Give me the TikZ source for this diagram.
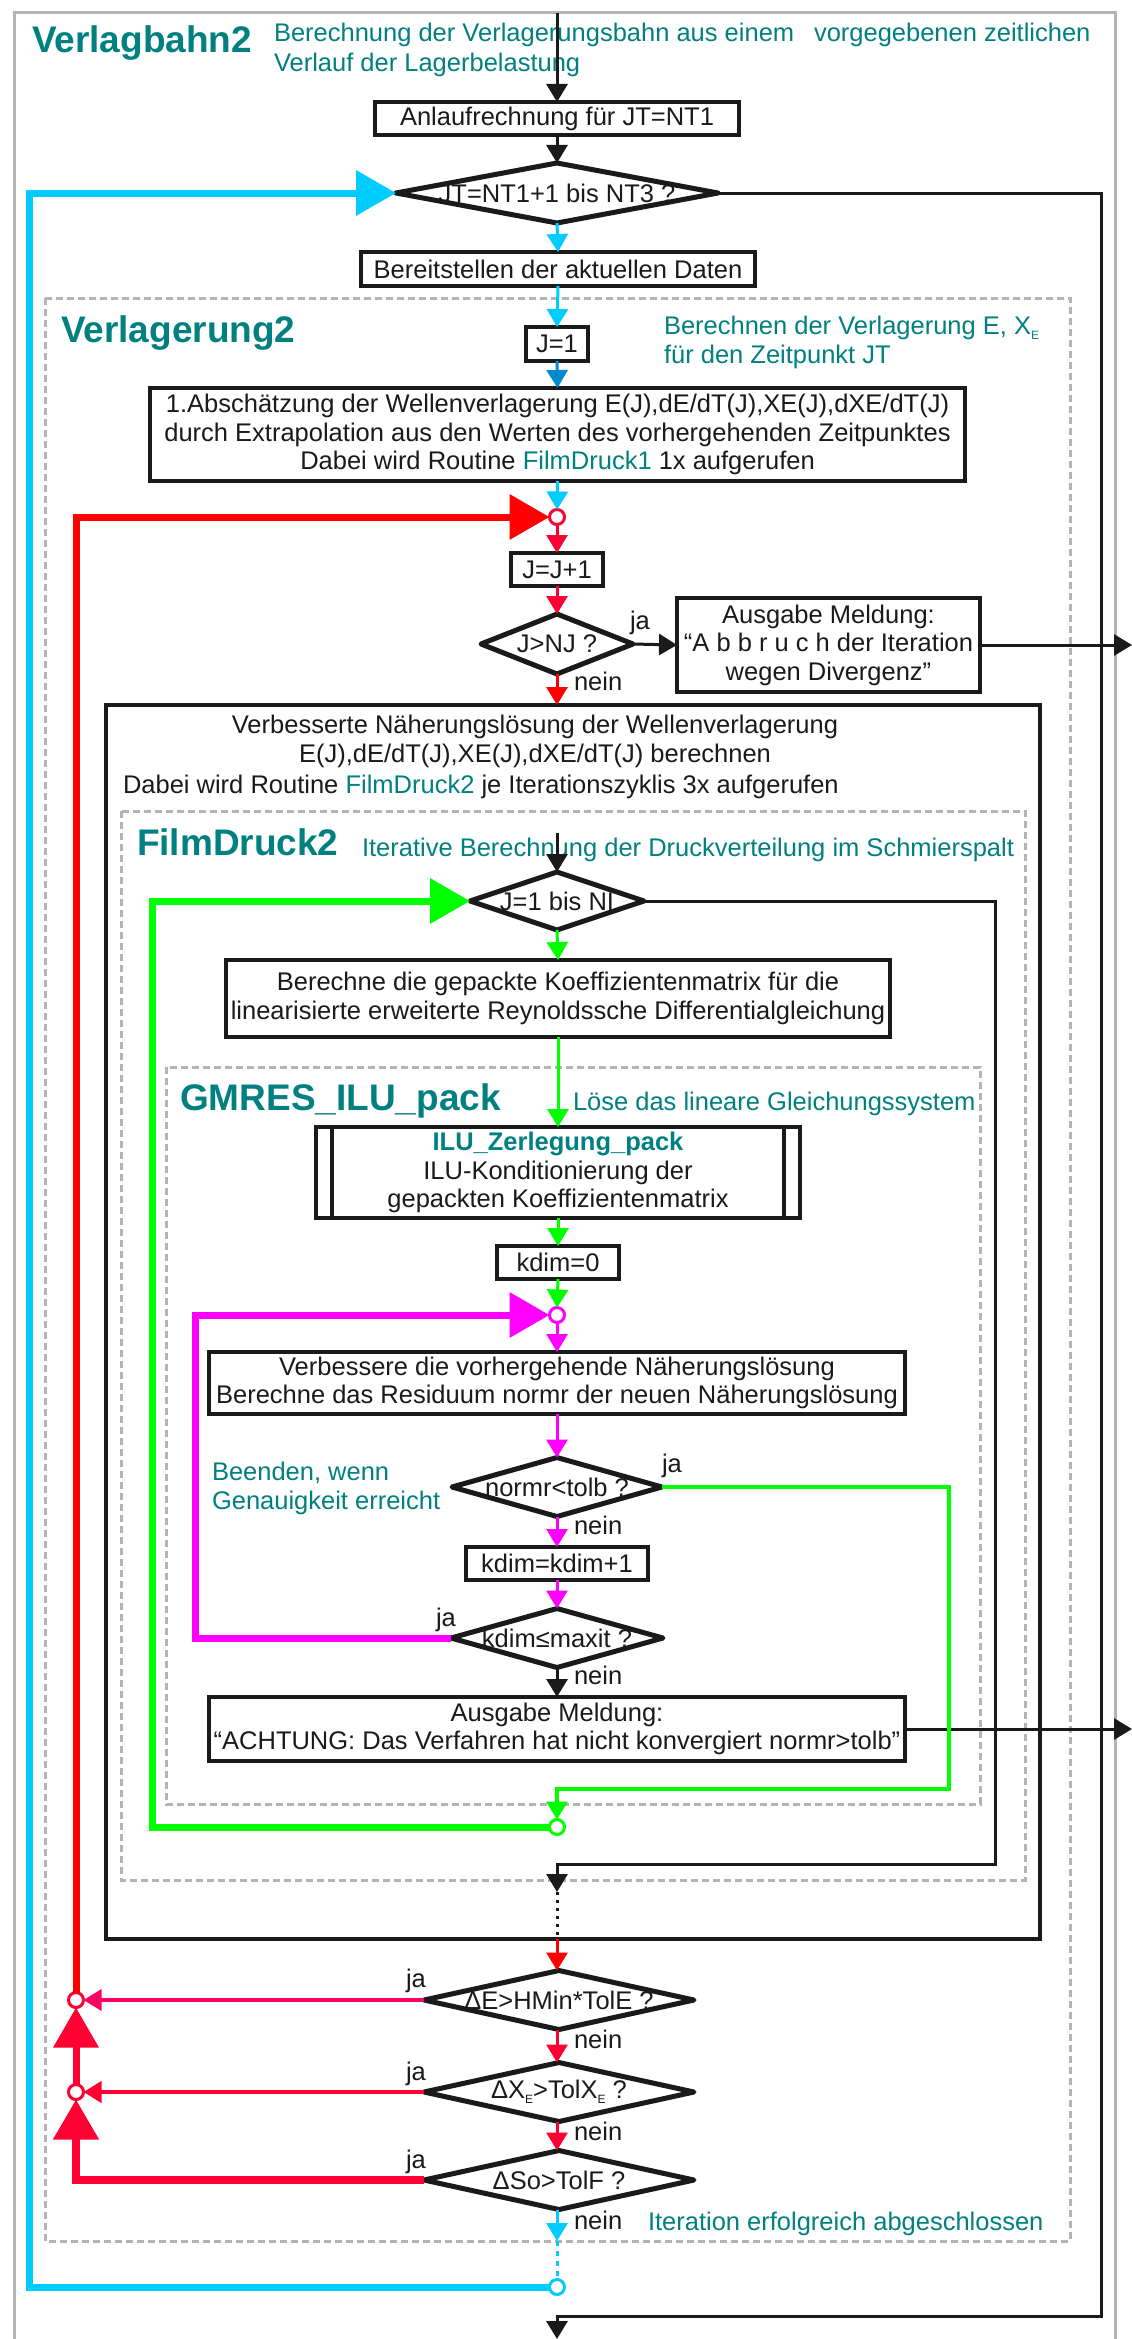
\documentclass[tikz,border=0pt]{standalone}
\usepackage{fontspec}
\setmainfont{Liberation Sans}
\usetikzlibrary{arrows.meta}

\definecolor{tealtxt}{RGB}{0,128,128}
\definecolor{cyanln}{RGB}{0,204,255}
\definecolor{blueln}{RGB}{0,140,204}
\definecolor{redln}{RGB}{255,0,0}
\definecolor{crimson}{RGB}{255,0,51}
\definecolor{pinkln}{RGB}{255,0,102}
\definecolor{greenln}{RGB}{0,255,0}
\definecolor{magentaln}{RGB}{255,0,255}
\definecolor{framegray}{RGB}{180,180,180}
\definecolor{ink}{RGB}{26,26,26}

\newcommand\bodyfont{\fontsize{25.5}{28.5}\selectfont}
\newcommand\headfont{\fontsize{37}{40}\selectfont\bfseries}
\newcommand\lowE{\raisebox{-5pt}{\fontsize{12}{12}\selectfont E}}

\tikzset{
  pbox/.style={draw=ink, line width=4pt, fill=white, inner sep=0pt, outer sep=0pt, align=center},
  dtext/.style={inner sep=0pt, outer sep=0pt, align=center},
  dedge/.style={draw=ink, line width=5pt, line join=round},
  jn/.style={circle, fill=white, line width=3pt, minimum size=15pt, inner sep=0pt, outer sep=0pt},
  conn/.style={line width=3pt, -{Triangle[length=18pt,width=21pt]}},
  bigloop/.style={line width=7pt, line join=miter, -{Triangle[length=40pt,width=44pt]}},
  lab/.style={inner sep=0pt, outer sep=0pt, anchor=base west},
  cent/.style={inner sep=0pt, outer sep=0pt, anchor=base},
  frame/.style={draw=framegray, line width=3pt, dash pattern=on 7pt off 4pt},
}

\begin{document}
\begin{tikzpicture}[x=1pt, y=-1pt, font=\bodyfont, every node/.append style={text=ink}]
\useasboundingbox (0,0) rectangle (1132,2339);
\fill[white] (0,0) rectangle (1132,2339);

% outer routine frame and nested routine frames
\draw[draw=framegray, line width=3pt] (14,2360) -- (14,13) -- (1115,13) -- (1115,2360);
\draw[frame] (45,298) rectangle (1070,2241);
\node[pbox, minimum width=934pt, minimum height=1234pt] (f) at (573,1322) {};
\draw[frame] (121,811) rectangle (1025,1880);
\draw[frame] (166,1067) rectangle (980,1804);

% titles and comments
\node[lab, font=\headfont, text=tealtxt] (t1) at (32,53) {Verlagbahn2};
\node[lab, text=tealtxt] (s1a) at (274,42) {Berechnung der Verlagerungsbahn aus einem};
\node[lab, text=tealtxt] (s1b) at (814,42) {vorgegebenen zeitlichen};
\node[lab, text=tealtxt] (s1c) at (274,72) {Verlauf der Lagerbelastung};
\node[lab, font=\headfont, text=tealtxt] (t2) at (61,342) {Verlagerung2};
\node[lab, text=tealtxt] (s2a) at (664,334) {Berechnen der Verlagerung E, X\lowE};
\node[lab, text=tealtxt] (s2b) at (664,363) {für den Zeitpunkt JT};
\node[lab, font=\headfont, text=tealtxt] (t3) at (137,855) {FilmDruck2};
\node[lab, text=tealtxt] (s3) at (362,856) {Iterative Berechnung der Druckverteilung im Schmierspalt};
\node[lab, font=\headfont, text=tealtxt] (t4) at (180,1110) {GMRES\_ILU\_pack};
\node[lab, text=tealtxt] (s4) at (573,1110) {Löse das lineare Gleichungssystem};
\node[lab, text=tealtxt] (s5a) at (212,1480) {Beenden, wenn};
\node[lab, text=tealtxt] (s5b) at (212,1509) {Genauigkeit erreicht};
\node[lab, text=tealtxt] (s6) at (648,2230) {Iteration erfolgreich abgeschlossen};

% process boxes
\node[pbox, minimum width=364pt, minimum height=33pt] (a) at (557,118.5) {Anlaufrechnung für JT=NT1};
\node[pbox, minimum width=394pt, minimum height=34pt] (b) at (558,269) {Bereitstellen der aktuellen Daten};
\node[pbox, minimum width=62pt, minimum height=34pt] (j1) at (557,344) {J=1};
\node[pbox, minimum width=815pt, minimum height=93pt] (c) at (557.5,434.5)
  {1.Abschätzung der Wellenverlagerung E(J),dE/dT(J),XE(J),dXE/dT(J)\\
   durch Extrapolation aus den Werten des vorhergehenden Zeitpunktes\\
   Dabei wird Routine \textcolor{tealtxt}{FilmDruck1} 1x aufgerufen};
\node[pbox, minimum width=92pt, minimum height=33pt] (jj) at (557,569.5) {J=J+1};
\node[pbox, minimum width=303pt, minimum height=94pt] (e) at (828.5,645)
  {Ausgabe Meldung:\\“A b b r u c h der Iteration\\wegen Divergenz”};
\node[cent] (f1) at (535,733) {Verbesserte Näherungslösung der Wellenverlagerung};
\node[cent] (f2) at (535,762) {E(J),dE/dT(J),XE(J),dXE/dT(J) berechnen};
\node[lab] (f3) at (123,793) {Dabei wird Routine \textcolor{tealtxt}{FilmDruck2} je Iterationszyklis 3x aufgerufen};
\node[pbox, minimum width=664pt, minimum height=77pt] (g) at (558,998.5)
  {Berechne die gepackte Koeffizientenmatrix für die\\linearisierte erweiterte Reynoldssche Differentialgleichung};
\node[pbox, minimum width=484pt, minimum height=91pt] (h) at (558,1172.5)
  {\textcolor{tealtxt}{\bfseries ILU\_Zerlegung\_pack}\\ILU-Konditionierung der\\gepackten Koeffizientenmatrix};
\draw[draw=ink, line width=4pt] ([xshift=16pt]h.north west) -- ([xshift=16pt]h.south west);
\draw[draw=ink, line width=4pt] ([xshift=-16pt]h.north east) -- ([xshift=-16pt]h.south east);
\node[pbox, minimum width=122pt, minimum height=33pt] (k0) at (558,1262.5) {kdim=0};
\node[pbox, minimum width=696pt, minimum height=62pt] (i) at (557,1383)
  {Verbessere die vorhergehende Näherungslösung\\Berechne das Residuum normr der neuen Näherungslösung};
\node[pbox, minimum width=182pt, minimum height=33pt] (kk) at (557,1563.5) {kdim=kdim+1};
\node[pbox, minimum width=696pt, minimum height=64pt] (jb) at (557,1729)
  {Ausgabe Meldung:\\“ACHTUNG: Das Verfahren hat nicht konvergiert normr>tolb”};

% decisions
\node[dtext, minimum width=322pt, minimum height=60pt] (d1) at (557,193) {JT=NT1+1 bis NT3 ?};
\node[dtext, minimum width=152pt, minimum height=60pt] (d2) at (557,644) {J>NJ ?};
\node[dtext, minimum width=174pt, minimum height=58pt] (d3) at (557,901) {J=1 bis NI};
\node[dtext, minimum width=210pt, minimum height=59pt] (d4) at (557,1487) {normr<tolb ?};
\node[dtext, minimum width=212pt, minimum height=59pt] (d5) at (557,1638) {kdim≤maxit ?};
\node[dtext, minimum width=270pt, minimum height=59pt] (d6) at (559,2000) {ΔE>HMin*TolE ?};
\node[dtext, minimum width=270pt, minimum height=59pt] (d7) at (559,2092) {ΔX\lowE>TolX\lowE\ ?};
\node[dtext, minimum width=270pt, minimum height=59pt] (d8) at (559,2180) {ΔSo>TolF ?};
\foreach \d in {d1,d2,d3,d4,d5,d6,d7,d8}
  \draw[dedge] (\d.north) -- (\d.east) -- (\d.south) -- (\d.west) -- cycle;

% branch labels
\node[lab] (ja2) at (630,629) {ja};
\node[lab] (ja4) at (662,1472) {ja};
\node[lab] (ja5) at (436,1626) {ja};
\node[lab] (ja6) at (406,1987) {ja};
\node[lab] (ja7) at (406,2080) {ja};
\node[lab] (ja8) at (406,2168) {ja};
\node[lab] (ne2) at (574,690) {nein};
\node[lab] (ne4) at (574,1534) {nein};
\node[lab] (ne5) at (574,1684) {nein};
\node[lab] (ne6) at (574,2048) {nein};
\node[lab] (ne7) at (574,2140) {nein};
\node[lab] (ne8) at (574,2229) {nein};

% junction circles
\node[jn, draw=crimson] (r1) at (557,517) {};
\node[jn, draw=magentaln] (m) at (557,1315) {};
\node[jn, draw=greenln] (g2) at (557,1827) {};
\node[jn, draw=crimson] (p1) at (76,2000) {};
\node[jn, draw=crimson] (p2) at (76,2092) {};
\node[jn, draw=cyanln] (c1) at (557,2287) {};

% free ends
\coordinate (top) at (557,13);
\coordinate (rim) at (1132,0);
\coordinate (fs) at (557,833);
\coordinate (fe) at (557,1892);
\coordinate (ve) at (557,2241);
\coordinate (bot) at (557,2339);

% main flow
\draw[conn, ink] (top) -- (a.north);
\draw[conn, ink] (a.south) -- (d1.north);
\draw[conn, cyanln] (d1.south) -- (b.north);
\draw[conn, cyanln] (b.south) -- (j1.north);
\draw[conn, blueln] (j1.south) -- (c.north);
\draw[conn, cyanln] (c.south) -- (r1.north);
\draw[conn, crimson] (r1.south) -- (jj.north);
\draw[conn, crimson] (jj.south) -- (d2.north);
\draw[conn, redln] (d2.south) -- (d2.south |- f.north);
\draw[conn, ink] (d2.east) -- (e.west);
\draw[conn, ink] (e.east) -- (e.east -| rim);
\draw[conn, ink] (fs) -- (d3.north);
\draw[conn, greenln] (d3.south) -- (g.north);
\draw[conn, greenln] (g.south) -- (g.south |- h.north);
\draw[conn, greenln] (h.south) -- (k0.north);
\draw[conn, greenln] (k0.south) -- (m.north);
\draw[conn, magentaln] (m.south) -- (i.north);
\draw[conn, magentaln] (i.south) -- (d4.north);
\draw[conn, magentaln] (d4.south) -- (kk.north);
\draw[conn, magentaln] (kk.south) -- (d5.north);
\draw[conn, ink] (d5.south) -- (jb.north);
\draw[conn, ink] (jb.east) -- (jb.east -| rim);
\draw[conn, greenln, line width=3.5pt] (d4.east) -- (949,1487) -- (949,1789) -- (557,1789) -- (g2.north);
\draw[conn, ink] (d3.east) -- (995,901) -- (995,1864) -- (557,1864) -- (fe);
\draw[ink, line width=3pt, dash pattern=on 3pt off 5pt] (fe) -- (fe |- f.south);
\draw[conn, redln] (fe |- f.south) -- (d6.north -| fe);
\draw[conn, crimson] (d6.south -| fe) -- (d7.north -| fe);
\draw[conn, crimson] (d7.south -| fe) -- (d8.north -| fe);
\draw[conn, cyanln] (d8.south -| fe) -- (ve);
\draw[cyanln, line width=3pt, dash pattern=on 5pt off 5pt] (ve) -- (c1.north);
\draw[conn, ink] (d1.east) -- (1101,193) -- (1101,2316) -- (557,2316) -- (bot);

% iteration loops
\draw[conn, pinkln, line width=3.5pt] (d6.west) -- (p1.east);
\draw[conn, crimson, line width=4pt] (d7.west) -- (p2.east);
\draw[bigloop, crimson, line width=8pt] (d8.west) -- (76,2180) -- (p2.south);
\draw[bigloop, crimson] (p2.north) -- (p1.south);
\draw[bigloop, redln] (p1.north) -- (76,517) -- (r1.west);
\draw[bigloop, magentaln] (d5.west) -- (195,1638) -- (195,1315) -- (m.west);
\draw[bigloop, greenln] (g2.west) -- (152,1827) -- (152,901) -- (d3.west);
\draw[bigloop, cyanln] (c1.west) -- (29,2287) -- (29,193) -- (d1.west);
\end{tikzpicture}
\end{document}
